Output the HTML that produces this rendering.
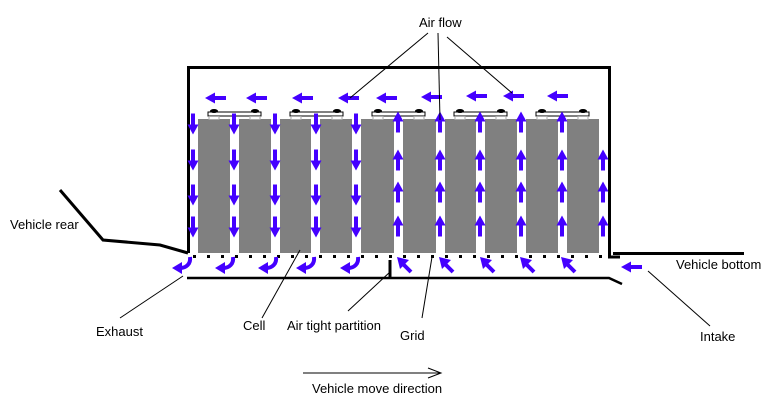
<!DOCTYPE html>
<html><head><meta charset="utf-8"><style>
html,body{margin:0;padding:0;background:#fff}
svg{display:block}
text{font-family:"Liberation Sans",Arial,sans-serif;font-size:13px;fill:#000}
</style></head><body>
<svg width="781" height="420" viewBox="0 0 781 420" xmlns="http://www.w3.org/2000/svg">
<defs>
<path id="ad" d="M-2,-10.5 h4 v11 h3.5 l-5.5,10 l-5.5,-10 h3.5 z" fill="#4400ff"/>
<path id="au" d="M-2,10.5 h4 v-11 h3.5 l-5.5,-10 l-5.5,10 h3.5 z" fill="#4400ff"/>
<path id="al" d="M10,-2 v4 h-11 v3.5 l-10,-5.5 l10,-5.5 v3.5 z" fill="#4400ff"/>
<g id="cl"><path d="M6,-6 C7,1 2,5 -4,5" stroke="#4400ff" stroke-width="4" fill="none"/><path d="M-2,-1 L-12,5 L-2,11 z" fill="#4400ff"/></g>
<g id="ul"><path d="M7,8 L-2,-1" stroke="#4400ff" stroke-width="4" fill="none"/><path d="M-7,-7 L5,-4 L-4,5 z" fill="#4400ff"/></g>
<g id="term"><rect x="0" y="112" width="53" height="4" fill="#fff" stroke="#000" stroke-width="1"/><ellipse cx="6" cy="111" rx="4" ry="2" fill="#000"/><ellipse cx="47" cy="111" rx="4" ry="2" fill="#000"/><rect x="1" y="116.5" width="10" height="3" fill="none" stroke="#aaa" stroke-width="1"/><rect x="42" y="116.5" width="10" height="3" fill="none" stroke="#aaa" stroke-width="1"/></g>
</defs>

<path d="M188.5,253 V67.5 H609.5 V257 H620" fill="none" stroke="#000" stroke-width="3"/>
<path d="M60,190 L103,240 L160,245 L188,253" fill="none" stroke="#000" stroke-width="3"/>
<line x1="613" y1="253.5" x2="744" y2="253.5" stroke="#000" stroke-width="3"/>
<path d="M187,278 H609 L622,284" fill="none" stroke="#000" stroke-width="2.5"/>
<line x1="390" y1="260" x2="390" y2="278" stroke="#000" stroke-width="3"/>

<g fill="#808080">
<rect x="198" y="119" width="32" height="134"/>
<rect x="239" y="119" width="32" height="134"/>
<rect x="280" y="119" width="31" height="134"/>
<rect x="320" y="119" width="32" height="134"/>
<rect x="361" y="119" width="33" height="134"/>
<rect x="403" y="119" width="33" height="134"/>
<rect x="445" y="119" width="31" height="134"/>
<rect x="485" y="119" width="32" height="134"/>
<rect x="526" y="119" width="32" height="134"/>
<rect x="567" y="119" width="32" height="134"/>
</g>
<use href="#term" x="208"/><use href="#term" x="290"/><use href="#term" x="372"/><use href="#term" x="454"/><use href="#term" x="536"/>

<g fill="#000">
<rect x="193" y="255" width="3" height="3"/><rect x="207" y="255" width="3" height="3"/><rect x="221" y="255" width="3" height="3"/><rect x="235" y="255" width="3" height="3"/><rect x="249" y="255" width="3" height="3"/><rect x="263" y="255" width="3" height="3"/><rect x="277" y="255" width="3" height="3"/><rect x="291" y="255" width="3" height="3"/><rect x="305" y="255" width="3" height="3"/><rect x="319" y="255" width="3" height="3"/><rect x="333" y="255" width="3" height="3"/><rect x="347" y="255" width="3" height="3"/><rect x="361" y="255" width="3" height="3"/><rect x="375" y="255" width="3" height="3"/><rect x="389" y="255" width="3" height="3"/><rect x="403" y="255" width="3" height="3"/><rect x="417" y="255" width="3" height="3"/><rect x="431" y="255" width="3" height="3"/><rect x="445" y="255" width="3" height="3"/><rect x="459" y="255" width="3" height="3"/><rect x="473" y="255" width="3" height="3"/><rect x="487" y="255" width="3" height="3"/><rect x="501" y="255" width="3" height="3"/><rect x="515" y="255" width="3" height="3"/><rect x="529" y="255" width="3" height="3"/><rect x="543" y="255" width="3" height="3"/><rect x="557" y="255" width="3" height="3"/><rect x="571" y="255" width="3" height="3"/><rect x="585" y="255" width="3" height="3"/><rect x="599" y="255" width="3" height="3"/>
</g>

<use href="#al" x="216" y="98"/><use href="#al" x="257" y="98"/><use href="#al" x="303" y="98"/><use href="#al" x="349" y="98"/><use href="#al" x="387" y="98"/><use href="#al" x="432" y="97"/><use href="#al" x="477" y="96"/><use href="#al" x="514" y="96"/><use href="#al" x="558" y="96"/>

<g>
<use href="#ad" x="193" y="124"/><use href="#ad" x="193" y="160"/><use href="#ad" x="193" y="195"/><use href="#ad" x="193" y="227"/>
<use href="#ad" x="234" y="124"/><use href="#ad" x="234" y="160"/><use href="#ad" x="234" y="195"/><use href="#ad" x="234" y="227"/>
<use href="#ad" x="275" y="124"/><use href="#ad" x="275" y="160"/><use href="#ad" x="275" y="195"/><use href="#ad" x="275" y="227"/>
<use href="#ad" x="316" y="124"/><use href="#ad" x="316" y="160"/><use href="#ad" x="316" y="195"/><use href="#ad" x="316" y="227"/>
<use href="#ad" x="356" y="124"/><use href="#ad" x="356" y="160"/><use href="#ad" x="356" y="195"/><use href="#ad" x="356" y="227"/>
</g>
<g>
<use href="#au" x="398" y="122"/><use href="#au" x="398" y="160"/><use href="#au" x="398" y="192"/><use href="#au" x="398" y="226"/>
<use href="#au" x="440" y="122"/><use href="#au" x="440" y="160"/><use href="#au" x="440" y="192"/><use href="#au" x="440" y="226"/>
<use href="#au" x="480" y="122"/><use href="#au" x="480" y="160"/><use href="#au" x="480" y="192"/><use href="#au" x="480" y="226"/>
<use href="#au" x="521" y="122"/><use href="#au" x="521" y="160"/><use href="#au" x="521" y="192"/><use href="#au" x="521" y="226"/>
<use href="#au" x="562" y="122"/><use href="#au" x="562" y="160"/><use href="#au" x="562" y="192"/><use href="#au" x="562" y="226"/>
<use href="#au" x="603" y="160"/><use href="#au" x="603" y="192"/><use href="#au" x="603" y="226"/>
</g>
<use href="#cl" x="184" y="263"/><use href="#cl" x="227" y="263"/><use href="#cl" x="270" y="263"/><use href="#cl" x="308" y="263"/><use href="#cl" x="352" y="263"/>
<use href="#ul" x="404" y="264"/><use href="#ul" x="446" y="264"/><use href="#ul" x="487" y="264"/><use href="#ul" x="527" y="264"/><use href="#ul" x="568" y="264"/>
<use href="#al" x="632" y="267"/>

<g stroke="#000" stroke-width="1" fill="none">
<line x1="428" y1="33" x2="350" y2="98"/>
<line x1="438" y1="33" x2="440" y2="120"/>
<line x1="447" y1="37" x2="512" y2="93"/>
<line x1="183" y1="276" x2="120" y2="318"/>
<line x1="300" y1="250" x2="262" y2="318"/>
<line x1="390" y1="272" x2="348" y2="311"/>
<line x1="432" y1="257" x2="422" y2="318"/>
<line x1="648" y1="271" x2="710" y2="326"/>
<line x1="303" y1="373" x2="440" y2="373"/>
</g>
<path d="M428,368 L441,373 L428,378" fill="none" stroke="#000" stroke-width="1"/>

<text x="419" y="27">Air flow</text>
<text x="10" y="229">Vehicle rear</text>
<text x="676" y="269">Vehicle bottom</text>
<text x="96" y="336">Exhaust</text>
<text x="243" y="330">Cell</text>
<text x="287" y="330">Air tight partition</text>
<text x="400" y="340">Grid</text>
<text x="700" y="341">Intake</text>
<text x="312" y="393">Vehicle move direction</text>
</svg>
</body></html>
